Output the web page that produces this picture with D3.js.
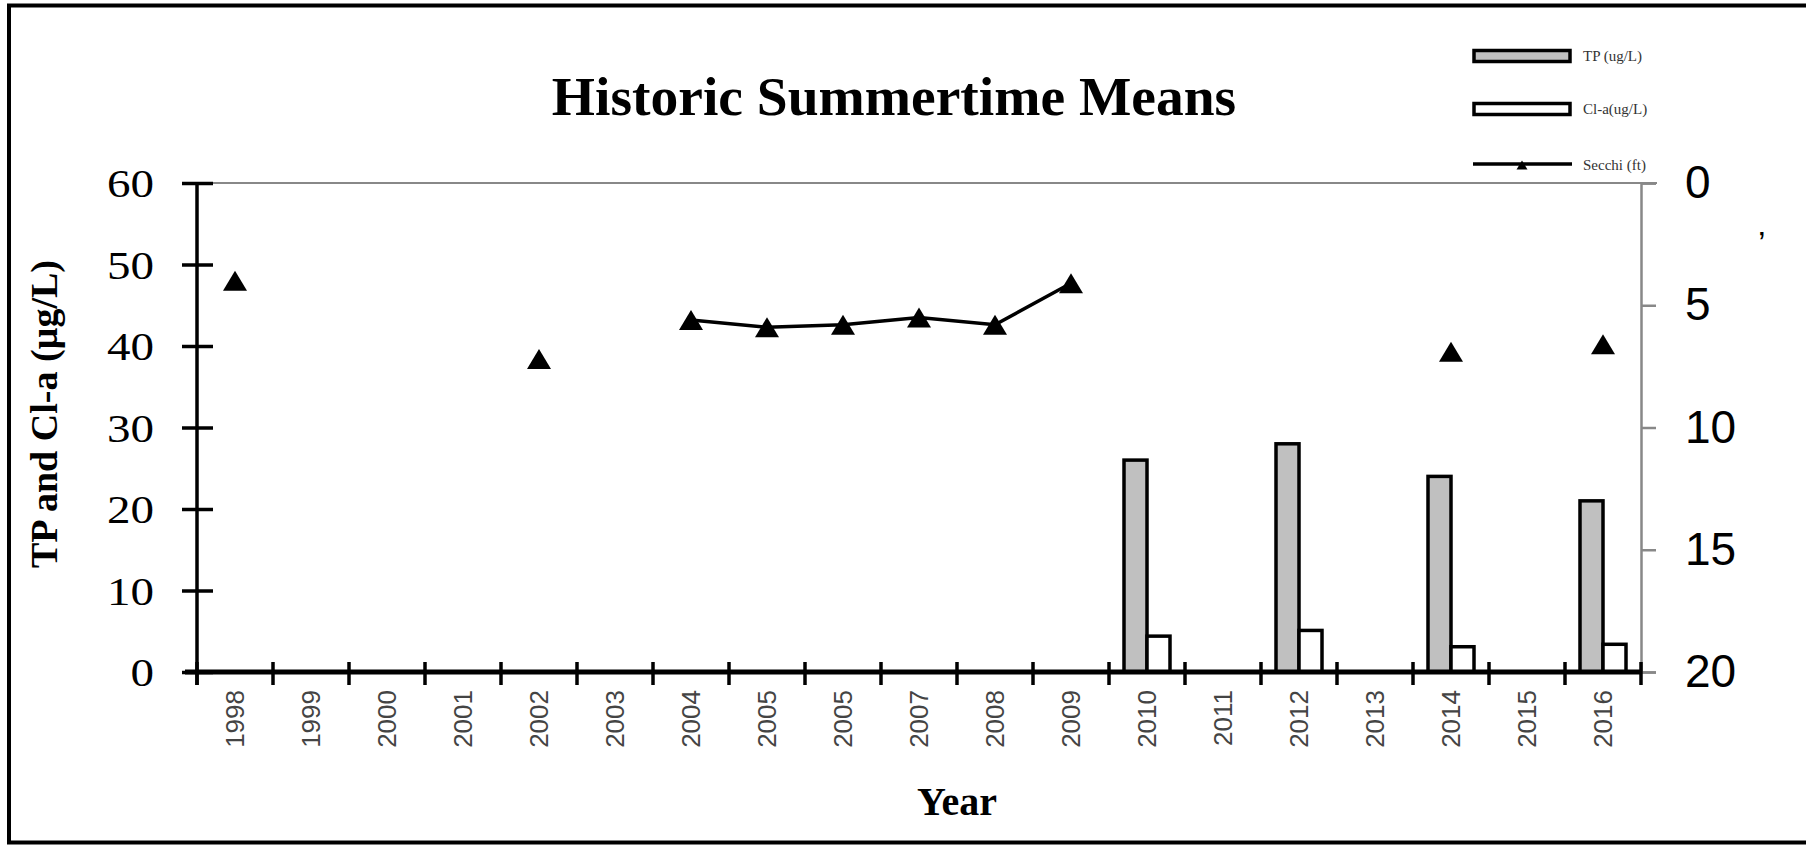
<!DOCTYPE html>
<html>
<head>
<meta charset="utf-8">
<script src="https://cdn.jsdelivr.net/npm/d3@7"></script>
<style>
  body { margin: 0; background: #fff; }
  svg { display: block; }
</style>
</head>
<body>
<div id="chart"></div>
<script>
// chart data
const years = [1998, 1999, 2000, 2001, 2002, 2003, 2004, 2005, 2006, 2007, 2008, 2009, 2010, 2011, 2012, 2013, 2014, 2015, 2016];
// tick labels as printed (the 2006 slot reads "2005" in the original)
const yearLabels = ['1998', '1999', '2000', '2001', '2002', '2003', '2004', '2005', '2005', '2007', '2008', '2009', '2010', '2011', '2012', '2013', '2014', '2015', '2016'];

const barYears = [2010, 2012, 2014, 2016];
const tpValues = [26, 28, 24, 21];
const claValues = [4.4, 5.1, 3.1, 3.4];

const secchiYears = [1998, 2002, 2004, 2005, 2006, 2007, 2008, 2009, 2014, 2016];
const secchiValues = [4.0, 7.2, 5.6, 5.9, 5.8, 5.5, 5.8, 4.1, 6.9, 6.6];

const leftTicks = [0, 10, 20, 30, 40, 50, 60];
const rightTicks = [0, 5, 10, 15, 20];

const seriesNames = ['TP (ug/L)', 'Cl-a(ug/L)', 'Secchi (ft)'];

const W = 1806, H = 845;
const plotLeft = 197, plotRight = 1641, plotTop = 183, plotBottom = 672;

const svg = d3.select('#chart').append('svg')
    .attr('width', W).attr('height', H);

// outer frame
svg.append('rect')
   .attr('x', 9).attr('y', 5.5)
   .attr('width', W).attr('height', 837)
   .attr('fill', 'none')
   .attr('stroke', '#000')
   .attr('stroke-width', 4);

const x = d3.scaleBand().domain(years).range([plotLeft, plotRight]).padding(0);
const xSub = d3.scaleBand().domain(['tp', 'cla']).range([15, 61]).padding(0);
const yL = d3.scaleLinear().domain([0, 60]).range([plotBottom, plotTop]);
const yR = d3.scaleLinear().domain([0, 20]).range([plotTop, plotBottom]);

const serif = '"Liberation Serif", "Times New Roman", serif';
const sans = '"Liberation Sans", Arial, sans-serif';

// title
svg.append('text')
   .attr('x', 894).attr('y', 115)
   .attr('text-anchor', 'middle')
   .style('font-family', serif)
   .style('font-weight', 'bold')
   .style('font-size', '55.5px')
   .text('Historic Summertime Means');

// plot top border (gray)
svg.append('line')
   .attr('x1', plotLeft).attr('x2', 1657)
   .attr('y1', plotTop).attr('y2', plotTop)
   .attr('stroke', '#888').attr('stroke-width', 2);

// right axis (gray)
const rightAxis = svg.append('g')
    .attr('transform', `translate(${plotRight},0)`)
    .call(d3.axisRight(yR).tickValues(rightTicks).tickSize(15).tickPadding(29));
rightAxis.select('.domain').attr('stroke', '#888').attr('stroke-width', 2.5);
rightAxis.selectAll('.tick line').attr('stroke', '#888').attr('stroke-width', 2.5);
rightAxis.selectAll('.tick text')
   .attr('fill', '#000')
   .style('font-family', sans)
   .style('font-size', '46px');

// bars
const barData = barYears.map((yr, i) => ({ year: yr, tp: tpValues[i], cla: claValues[i] }));
const groups = svg.append('g').selectAll('g')
    .data(barData)
    .enter()
    .append('g')
    .attr('transform', d => `translate(${x(d.year)},0)`);

groups.append('rect')
   .attr('x', xSub('tp'))
   .attr('y', d => yL(d.tp))
   .attr('width', xSub.bandwidth())
   .attr('height', d => yL(0) - yL(d.tp))
   .attr('fill', '#c0c0c0')
   .attr('stroke', '#000')
   .attr('stroke-width', 3.5);

groups.append('rect')
   .attr('x', xSub('cla'))
   .attr('y', d => yL(d.cla))
   .attr('width', xSub.bandwidth())
   .attr('height', d => yL(0) - yL(d.cla))
   .attr('fill', '#fff')
   .attr('stroke', '#000')
   .attr('stroke-width', 3.5);

// left axis
const leftAxis = svg.append('g')
    .attr('transform', `translate(${plotLeft},0)`)
    .call(d3.axisLeft(yL).tickValues(leftTicks).tickSize(15).tickPadding(28));
leftAxis.select('.domain').remove();
leftAxis.append('line')
   .attr('y1', plotTop).attr('y2', 685)
   .attr('stroke', '#000').attr('stroke-width', 3.5);
leftAxis.selectAll('.tick line')
   .attr('x1', -15).attr('x2', 16)
   .attr('stroke', '#000').attr('stroke-width', 3.5);
leftAxis.selectAll('.tick text')
   .attr('fill', '#000')
   .attr('dy', '0.34em')
   .attr('textLength', d => String(d).length * 23.5)
   .attr('lengthAdjust', 'spacingAndGlyphs')
   .style('font-family', serif)
   .style('font-size', '40px');

// x axis
const xAxis = svg.append('g')
    .attr('transform', `translate(0,${plotBottom})`);
xAxis.append('line')
   .attr('x1', plotLeft - 12).attr('x2', plotRight)
   .attr('stroke', '#000').attr('stroke-width', 5);
const boundaries = years.map(yr => x(yr)).concat([plotRight]);
xAxis.selectAll('line.tk')
   .data(boundaries)
   .enter()
   .append('line')
   .attr('class', 'tk')
   .attr('x1', d => d).attr('x2', d => d)
   .attr('y1', -10).attr('y2', 13)
   .attr('stroke', '#000').attr('stroke-width', 3.5);
xAxis.selectAll('text')
   .data(years)
   .enter()
   .append('text')
   .attr('transform', (d, i) => `translate(${x(d) + x.bandwidth() / 2 + 9},18) rotate(-90)`)
   .attr('text-anchor', 'end')
   .attr('fill', '#444')
   .style('font-family', sans)
   .style('font-size', '26px')
   .text((d, i) => yearLabels[i]);

// axis titles
svg.append('text')
   .attr('transform', 'translate(57,414) rotate(-90)')
   .attr('text-anchor', 'middle')
   .style('font-family', serif)
   .style('font-weight', 'bold')
   .style('font-size', '38px')
   .text('TP and Cl-a (µg/L)');

svg.append('text')
   .attr('x', 957).attr('y', 815)
   .attr('text-anchor', 'middle')
   .style('font-family', serif)
   .style('font-weight', 'bold')
   .style('font-size', '40px')
   .text('Year');

// secchi line + markers
const secchiMap = new Map(secchiYears.map((yr, i) => [yr, secchiValues[i]]));
const secchiFull = years.map(yr => ({ year: yr, v: secchiMap.has(yr) ? secchiMap.get(yr) : null }));
const cx = yr => x(yr) + x.bandwidth() / 2;

const line = d3.line()
    .defined(d => d.v !== null)
    .x(d => cx(d.year))
    .y(d => yR(d.v));

svg.append('path')
   .datum(secchiFull)
   .attr('fill', 'none')
   .attr('stroke', '#000')
   .attr('stroke-width', 3.5)
   .attr('d', line);

const tri = (w, h) => `M0,${-h / 2}L${w / 2},${h / 2}L${-w / 2},${h / 2}Z`;
svg.append('g').selectAll('path')
   .data(secchiFull.filter(d => d.v !== null))
   .enter()
   .append('path')
   .attr('transform', d => `translate(${cx(d.year)},${yR(d.v)})`)
   .attr('d', tri(24, 20))
   .attr('fill', '#000');

// legend
const legend = svg.append('g');
legend.append('rect')
   .attr('x', 1474).attr('y', 50.5).attr('width', 96).attr('height', 11)
   .attr('fill', '#c0c0c0').attr('stroke', '#000').attr('stroke-width', 3.5);
legend.append('rect')
   .attr('x', 1474).attr('y', 103.5).attr('width', 96).attr('height', 11)
   .attr('fill', '#fff').attr('stroke', '#000').attr('stroke-width', 3.5);
legend.append('line')
   .attr('x1', 1473).attr('x2', 1572).attr('y1', 164).attr('y2', 164)
   .attr('stroke', '#000').attr('stroke-width', 3.5);
legend.append('path')
   .attr('transform', 'translate(1522,165)')
   .attr('d', tri(11, 9))
   .attr('fill', '#000');
legend.selectAll('text')
   .data(seriesNames)
   .enter()
   .append('text')
   .attr('x', 1583)
   .attr('y', (d, i) => [61, 114, 170][i])
   .attr('fill', '#333')
   .style('font-family', serif)
   .style('font-size', '15px')
   .text(d => d);

// stray mark at the right edge of the original
svg.append('text')
   .attr('x', 1758).attr('y', 255)
   .style('font-family', sans)
   .style('font-size', '34px')
   .text('\u2019');
</script>
</body>
</html>
